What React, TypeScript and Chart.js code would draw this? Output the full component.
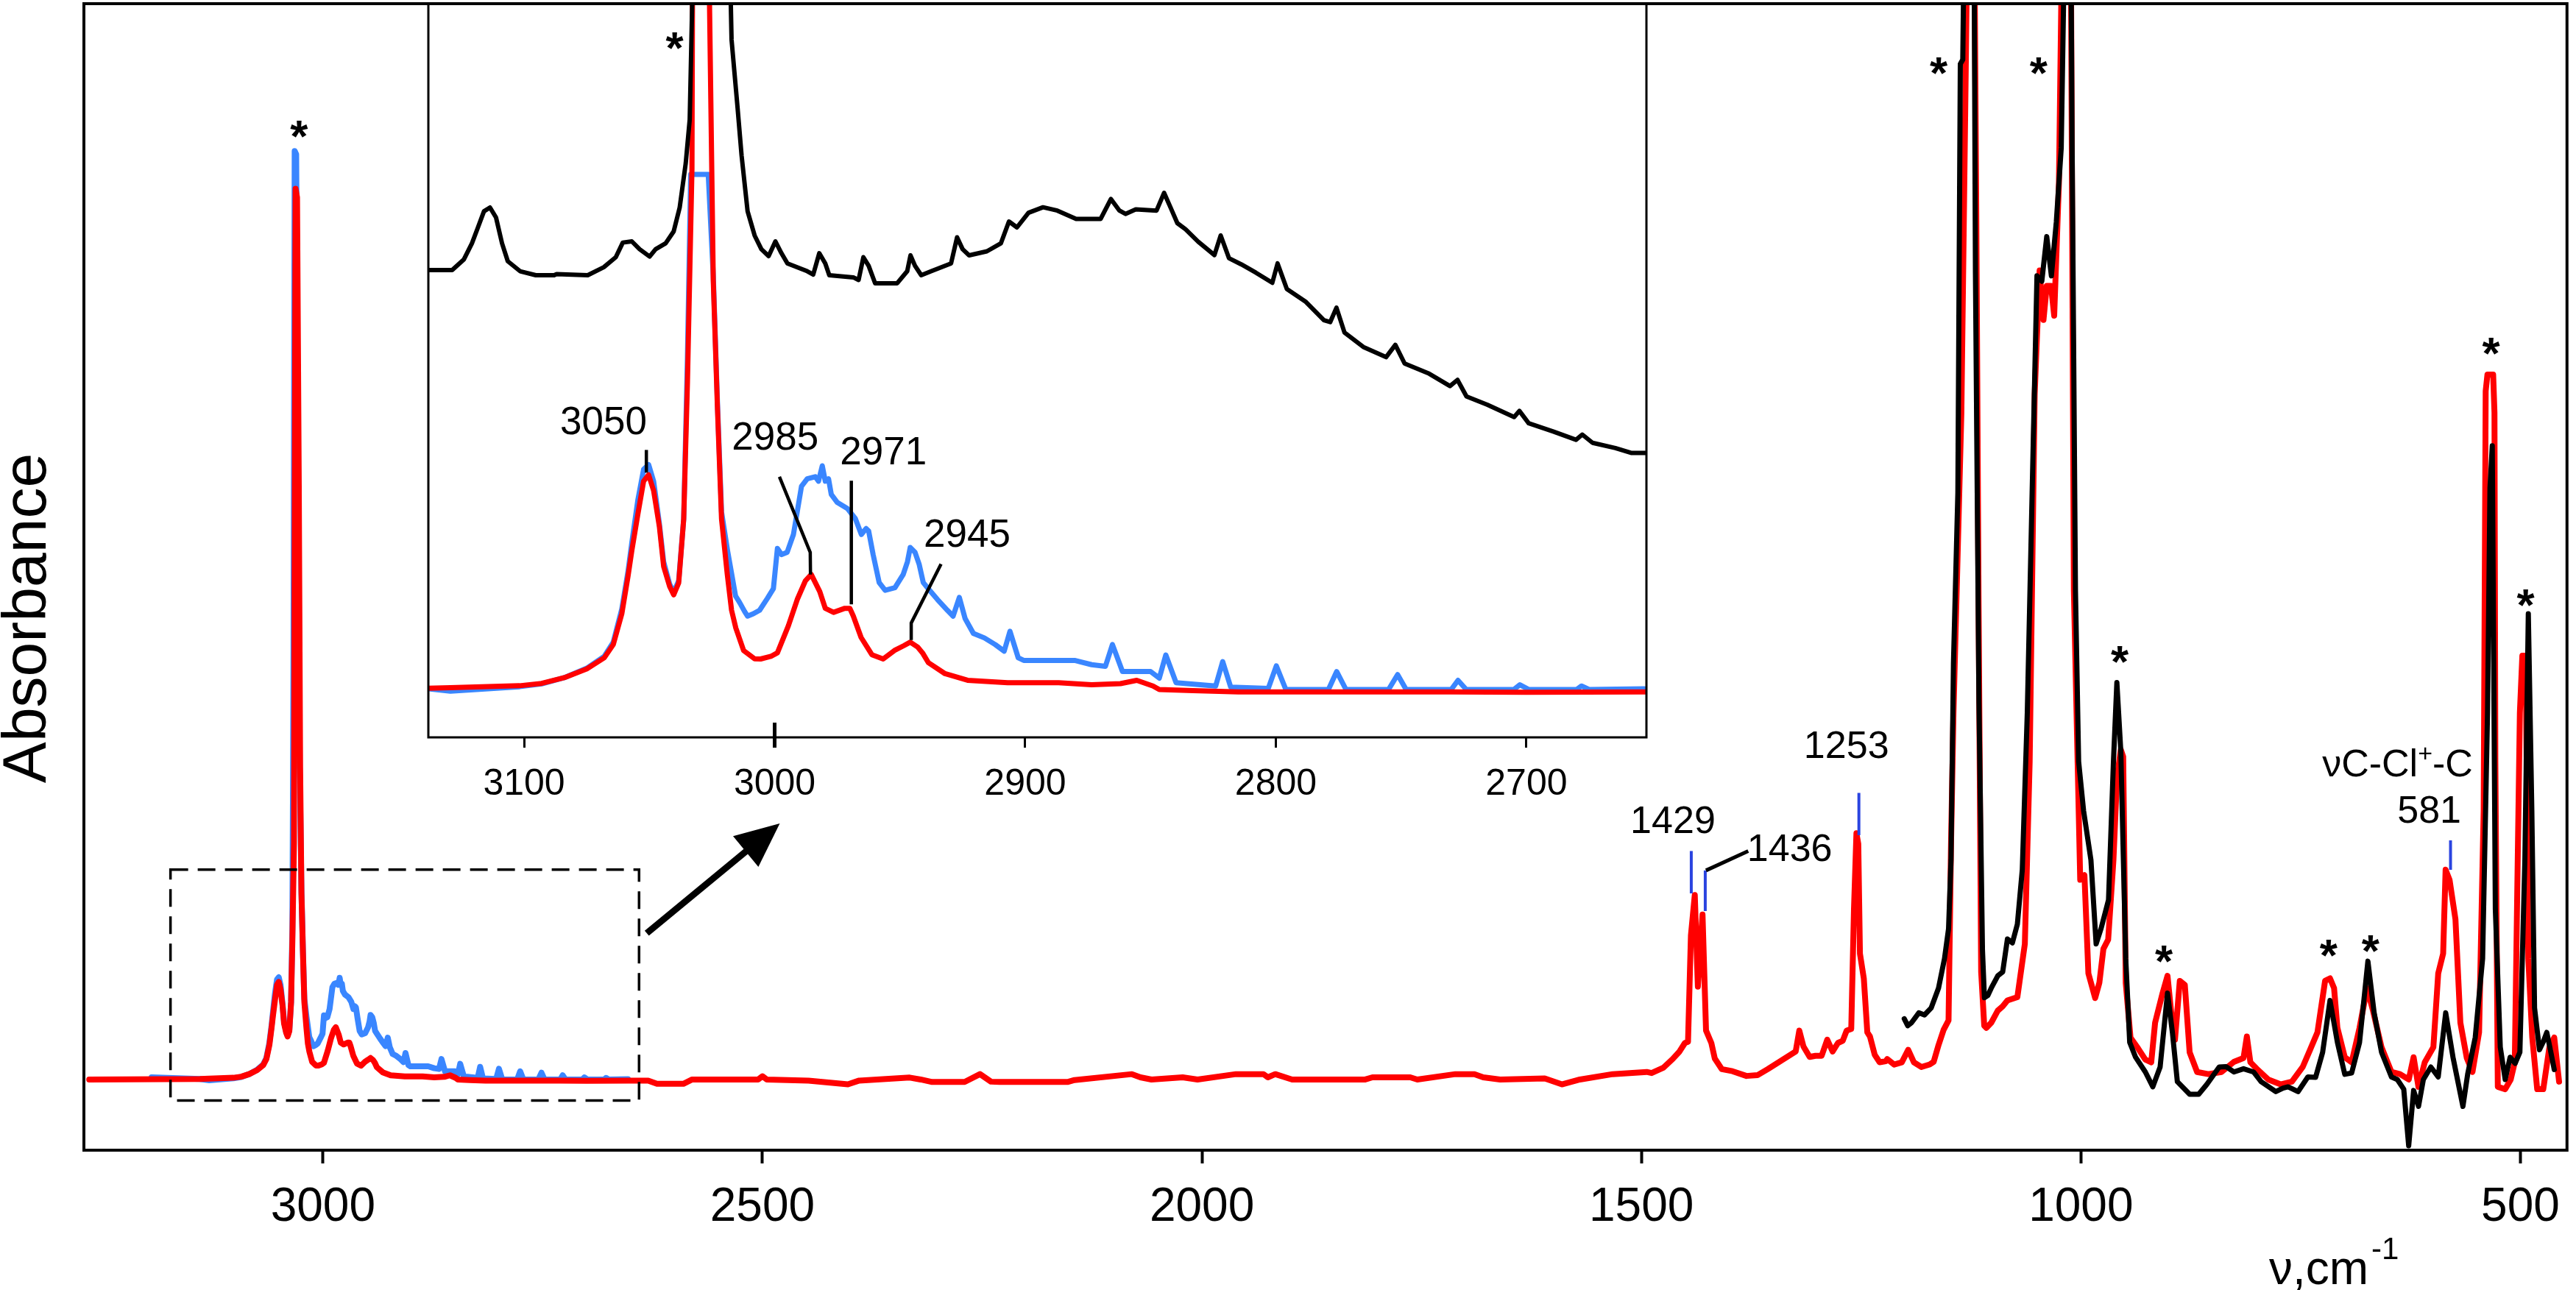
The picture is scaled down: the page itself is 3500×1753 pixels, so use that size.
import React, { useEffect, useRef } from "react";
import { Chart, registerables } from "chart.js";

Chart.register(...registerables);

const FONT = '"Liberation Sans", Arial, Helvetica, sans-serif';

// ---------- data (wavenumber cm-1, absorbance a.u.) ----------
const redSpectrum: [number, number][] = [
  [3266, 0], [3140, 0.0005], [3129.4, 0.0008], [3101.8, 0.0016], [3093, 0.0026], [3084, 0.005], [3075, 0.0087],
  [3068, 0.0134], [3064.4, 0.019], [3061, 0.032], [3058.5, 0.048], [3057, 0.0587], [3054.6, 0.074], [3052.3, 0.088],
  [3050.3, 0.0907], [3048.3, 0.084], [3046, 0.0688], [3044.3, 0.052], [3041.9, 0.0435], [3040.3, 0.04], [3038.3, 0.045],
  [3036.3, 0.072], [3034.8, 0.13], [3033, 0.22], [3032.2, 0.5], [3031.2, 0.828], [3029.5, 0.82], [3027.5, 0.55],
  [3026, 0.29], [3024.5, 0.173], [3022.8, 0.118], [3021.2, 0.072], [3018.9, 0.0486], [3017.2, 0.0335], [3015.5, 0.026],
  [3012.4, 0.0165], [3008, 0.013], [3005.6, 0.0129], [3001.5, 0.014], [2998.9, 0.0155], [2994.5, 0.027], [2991, 0.038],
  [2987.7, 0.046], [2985.4, 0.0486], [2982, 0.0414], [2979.8, 0.0343], [2976.5, 0.0326], [2972, 0.0343], [2970, 0.0343],
  [2968.6, 0.031], [2965.5, 0.022], [2961.2, 0.0147], [2956.7, 0.0129], [2952.2, 0.0165], [2948.5, 0.0185], [2945.9, 0.02],
  [2943, 0.018], [2941, 0.0155], [2938.7, 0.0114], [2932, 0.0067], [2923, 0.0039], [2907, 0.0029], [2886.7, 0.0029],
  [2873.5, 0.002], [2862, 0.0025], [2855.5, 0.0039], [2849, 0.0015], [2846.5, 0], [2833, -0.0005], [2815, -0.001],
  [2730, -0.001], [2700, -0.0012], [2653, -0.001], [2630, -0.001], [2620, -0.004], [2590, -0.004], [2580, 0],
  [2505, 0], [2500, 0.003], [2495, 0], [2447.6, -0.001], [2402.8, -0.0045], [2390, -0.001], [2332.5, 0.0018],
  [2320, 0], [2307, -0.0023], [2270, -0.0023], [2252.5, 0.005], [2240, -0.002], [2230, -0.0023], [2153, -0.0023],
  [2145, -0.0005], [2079.7, 0.005], [2070, 0.002], [2057.4, 0], [2022, 0.002], [2005, 0], [1961.3, 0.005], [1930, 0.005],
  [1925, 0.002], [1916.6, 0.005], [1897.4, 0], [1814.2, 0], [1806, 0.002], [1763, 0.002], [1755, 0], [1711.7, 0.005],
  [1690, 0.005], [1680, 0.002], [1660.7, 0], [1610, 0.001], [1590.5, -0.0045], [1570, 0], [1532.7, 0.005], [1494, 0.007],
  [1488.4, 0.006], [1475, 0.011], [1464.5, 0.019], [1456.7, 0.026], [1450.5, 0.034], [1447, 0.035], [1443.7, 0.134],
  [1439.3, 0.1715], [1435.8, 0.0864], [1430.5, 0.1534], [1426.5, 0.0455], [1420.5, 0.034], [1416.5, 0.0194],
  [1408.5, 0.0096], [1396.4, 0.0077], [1380.5, 0.0033], [1368, 0.004], [1356.3, 0.0096], [1340.4, 0.0178], [1324.5, 0.026],
  [1320.4, 0.0455], [1315.7, 0.0308], [1308.6, 0.021], [1302, 0.022], [1295, 0.022], [1288.6, 0.037], [1282.5, 0.026],
  [1276.4, 0.034], [1271, 0.036], [1266.5, 0.0455], [1261.3, 0.047], [1258.2, 0.158], [1255.4, 0.229], [1253.3, 0.219],
  [1251.4, 0.117], [1247, 0.094], [1243, 0.0438], [1240, 0.04], [1234.6, 0.023], [1229, 0.016], [1222, 0.017],
  [1220.4, 0.019], [1212.5, 0.0139], [1203.8, 0.016], [1196.5, 0.0276], [1190, 0.016], [1181.6, 0.0116], [1172, 0.014],
  [1167.5, 0.0165], [1162, 0.032], [1156.3, 0.046], [1150.6, 0.055], [1147.8, 0.2177], [1145, 0.341], [1136, 0.62],
  [1131, 0.94], [1128, 1.15], [1122, 1.15], [1119, 0.8], [1116.5, 0.45], [1113.5, 0.1], [1110, 0.05], [1107.5, 0.048],
  [1102, 0.0528], [1094.6, 0.064], [1089, 0.068], [1083.6, 0.0735], [1072.3, 0.0766], [1063.8, 0.126], [1058.3, 0.2956],
  [1052.6, 0.637], [1047, 0.752], [1042.6, 0.706], [1038.9, 0.7376], [1034, 0.7376], [1030.4, 0.71], [1025, 0.834],
  [1020, 1.15], [1012, 1.15], [1008, 0.4538], [1000.8, 0.1856], [996, 0.19], [991.5, 0.0986], [983.8, 0.0757], [979, 0.09],
  [974.4, 0.1215], [969, 0.13], [963, 0.204], [959, 0.28], [954.6, 0.3066], [951.9, 0.3], [949, 0.0896], [943.6, 0.039],
  [935, 0.029], [926.7, 0.0185], [920, 0.016], [915.6, 0.0528], [907.1, 0.0803], [901.5, 0.0964], [897, 0.06],
  [893, 0.037], [887.5, 0.0917], [881.8, 0.088], [876.3, 0.0253], [867.8, 0.007], [855, 0.005], [840, 0.007],
  [826, 0.0164], [815, 0.02], [811.2, 0.04], [807.2, 0.016], [800, 0.01], [786.9, 0], [772.8, -0.0045], [760, -0.002],
  [747.7, 0.0116], [739.3, 0.0276], [730.9, 0.0438], [722.2, 0.0917], [716.6, 0.094], [712, 0.085], [708.2, 0.048],
  [699.8, 0.0207], [692, 0.016], [683, 0.048], [674.5, 0.085], [668, 0.065], [658, 0.03], [646.7, 0.007], [637, 0.005],
  [627, 0], [621.5, 0.0207], [616, -0.0068], [608.8, 0.016], [599, 0.03], [593.5, 0.0986], [587.9, 0.117], [585.1, 0.195],
  [580.6, 0.1856], [573.9, 0.149], [568.3, 0.0528], [561, 0.02], [554.5, 0.007], [547, 0.0438], [541.8, 0.25],
  [539.5, 0.64], [537.5, 0.6553], [531, 0.6553], [529.5, 0.62], [528.5, 0.2956], [525.7, -0.0068], [517.3, -0.009], [511, 0], [506.4, 0.016],
  [500.6, 0.341], [497.8, 0.394], [494, 0.394], [491, 0.1124], [486.5, 0.039], [480.9, -0.009], [474, -0.009],
  [467, 0.03], [461.5, 0.039], [456, -0.002],
];

const blueSpectrum: [number, number][] = [
  [3195, 0.002], [3140, 0.0005], [3129.4, -0.0007], [3101.8, 0.0012], [3093, 0.0024], [3084, 0.005], [3075, 0.009],
  [3068, 0.014], [3064.4, 0.02], [3061, 0.034], [3058.5, 0.05], [3057, 0.062], [3054.6, 0.08], [3052.3, 0.093],
  [3050.3, 0.095], [3048.3, 0.088], [3046, 0.07], [3044.3, 0.054], [3041.9, 0.0445], [3040.3, 0.041], [3038.3, 0.046],
  [3036.3, 0.072], [3034.8, 0.14], [3033.5, 0.4], [3032.2, 0.863], [3030.5, 0.86], [3028.5, 0.6], [3026.5, 0.29],
  [3024.5, 0.175], [3022.8, 0.12], [3021.2, 0.075], [3018.8, 0.0587], [3015.6, 0.0395], [3014, 0.0368], [3012, 0.033],
  [3010.8, 0.031], [3008.5, 0.032], [3006, 0.0335], [3002.9, 0.0385], [3000.5, 0.0426], [2998.9, 0.0596], [2997.2, 0.057],
  [2995, 0.058], [2992.5, 0.0655], [2989.3, 0.0858], [2987, 0.089], [2983.8, 0.0899], [2982.5, 0.088], [2981, 0.0945],
  [2979.8, 0.088], [2978.5, 0.089], [2977.4, 0.0824], [2975, 0.079], [2971, 0.0765], [2967.8, 0.0722], [2965.4, 0.0655],
  [2963.5, 0.068], [2962.5, 0.067], [2960.7, 0.057], [2958.3, 0.0452], [2955.9, 0.0419], [2952, 0.043], [2948.7, 0.0486],
  [2947, 0.054], [2945.9, 0.06], [2944, 0.058], [2942.3, 0.0528], [2940.7, 0.0452], [2938.7, 0.0426], [2935, 0.038],
  [2931, 0.0334], [2928.8, 0.031], [2926.3, 0.0389], [2924, 0.03], [2920.7, 0.0237], [2916.3, 0.0218], [2912, 0.019],
  [2908.4, 0.0162], [2906.1, 0.0246], [2902.8, 0.0134], [2900.6, 0.0123], [2880.3, 0.0123], [2873.5, 0.0105],
  [2868, 0.0098], [2865.2, 0.019], [2861.2, 0.0076], [2850, 0.0076], [2846.5, 0.0048], [2843.9, 0.0146], [2839.8, 0.0029],
  [2824, 0.0015], [2821.2, 0.0118], [2818, 0.001], [2803, 0.0005], [2799.8, 0.01], [2796, 0], [2779, 0], [2775.7, 0.0076],
  [2772, 0], [2755, 0], [2751.4, 0.0063], [2748, 0], [2730, 0], [2727.3, 0.0039], [2724, 0], [2705, 0], [2702.6, 0.002],
  [2699, 0], [2680, 0], [2678, 0.0015], [2675, 0], [2653, 0.0003],
];

const blackSpectrum: [number, number][] = [
  [1201, 0.0565], [1197, 0.05], [1192.7, 0.0528], [1184.4, 0.062], [1178, 0.06], [1170.3, 0.0666], [1162, 0.085],
  [1155.2, 0.1124], [1150.6, 0.14], [1147.8, 0.204], [1145, 0.387], [1140, 0.5453], [1137.2, 0.944], [1134.4, 0.948],
  [1131.6, 1.15], [1122, 1.15], [1120, 0.75], [1116, 0.35], [1112, 0.12], [1109.8, 0.076], [1106, 0.078], [1102, 0.085],
  [1094.6, 0.0964], [1089, 0.1], [1083.6, 0.1306], [1078, 0.127], [1072.3, 0.1444], [1066.7, 0.195], [1061, 0.341],
  [1055.5, 0.545], [1050, 0.747], [1044.5, 0.742], [1038.9, 0.7835], [1033.6, 0.747], [1028, 0.797], [1022.4, 0.866],
  [1016.8, 1.15], [1012, 1.15], [1010, 0.866], [1006.2, 0.4538], [1002.6, 0.2956], [997, 0.25], [988.6, 0.204],
  [982.7, 0.126], [977.2, 0.14], [968.6, 0.167], [963, 0.2956], [959.1, 0.369], [954.6, 0.3047], [949, 0.1124],
  [944.5, 0.0345], [937.8, 0.0207], [926.7, 0.007], [918.2, -0.0068], [909.9, 0.0116], [901.5, 0.0803], [895.9, 0.0436],
  [890.3, -0.002], [876.3, -0.0137], [866, -0.0137], [856.7, -0.0045], [842.7, 0.0116], [835, 0.012], [826, 0.007],
  [815, 0.01], [803.6, 0.007], [795, -0.002], [778.3, -0.0113], [770, -0.008], [764.3, -0.0068], [753, -0.0113],
  [741.8, 0.0024], [733, 0.002], [725, 0.0253], [716.6, 0.0735], [708.2, 0.0345], [699.8, 0.0048], [692, 0.006],
  [683, 0.0345], [673.5, 0.11], [666.4, 0.062], [658, 0.0253], [646.7, 0.0024], [640, 0], [632.7, -0.009],
  [627.1, -0.0616], [621.5, -0.0102], [615.9, -0.025], [610.4, 0], [601.9, 0.0116], [593.5, 0.0024], [585, 0.062],
  [576.7, 0.0207], [565.4, -0.025], [560, 0.005], [551.4, 0.039], [543, 0.1124], [537.4, 0.341], [534.6, 0.55],
  [532, 0.589], [528.5, 0.158], [522.9, 0.03], [517.3, 0], [511.7, 0.0207], [506, 0.015], [500.6, 0.0253], [494.9, 0.204],
  [491, 0.433], [487, 0.25], [483.9, 0.0666], [478.3, 0.0276], [474, 0.035], [470, 0.0438], [466, 0.028], [461.5, 0.0093],
];

// black trace shown only in the inset (offset spectrum)
const insetBlackSpectrum: [number, number][] = [
  [3138.5, 0.1772], [3128.7, 0.1772], [3124, 0.1817], [3120.8, 0.1885], [3118.4, 0.1952], [3116, 0.202], [3113.6, 0.2036],
  [3111.2, 0.1994], [3108.8, 0.1885], [3106.5, 0.1809], [3101.6, 0.1767], [3095.3, 0.175], [3088, 0.175], [3087, 0.1755],
  [3074.6, 0.175], [3068.2, 0.1784], [3063.4, 0.1826], [3060.6, 0.1888], [3057, 0.1893], [3053.9, 0.186], [3049.9, 0.1829],
  [3047.5, 0.186], [3043.5, 0.1885], [3040.3, 0.1935], [3037.9, 0.2036], [3035.5, 0.2222], [3033.9, 0.2407], [3032.5, 0.31],
  [3031.5, 0.34], [3018.5, 0.34], [3017.2, 0.2745], [3014.8, 0.2457], [3013.2, 0.2256], [3010.8, 0.202], [3008, 0.1918],
  [3005.3, 0.186], [3002.4, 0.1831], [2999.7, 0.1893], [2997.3, 0.1843], [2994.9, 0.18], [2987, 0.1767], [2984.6, 0.1753],
  [2982.2, 0.1843], [2979.8, 0.18], [2978.2, 0.175], [2968.6, 0.1741], [2966.5, 0.173], [2964.6, 0.1826], [2962.5, 0.179],
  [2959.9, 0.1716], [2951.1, 0.1716], [2947.1, 0.1767], [2945.8, 0.1834], [2944, 0.179], [2941.5, 0.175], [2937.5, 0.1767],
  [2929.6, 0.18], [2927.2, 0.191], [2925, 0.186], [2922.4, 0.1834], [2915.3, 0.1851], [2909.7, 0.1885], [2906.5, 0.1977],
  [2903.3, 0.1952], [2898.7, 0.2014], [2892.9, 0.2037], [2887.2, 0.2023], [2879.7, 0.1988], [2869.9, 0.1988],
  [2865.8, 0.2072], [2862.4, 0.2023], [2860, 0.2009], [2855.9, 0.2028], [2847.6, 0.2023], [2844.6, 0.2098],
  [2841.8, 0.2031], [2839.3, 0.197], [2836, 0.1944], [2831, 0.1892], [2824.5, 0.1835], [2822, 0.1918], [2818.7, 0.1822],
  [2813.8, 0.1796], [2808, 0.1761], [2801.4, 0.1718], [2799.3, 0.18], [2795.6, 0.1692], [2788.2, 0.1639], [2780.8, 0.156],
  [2778.3, 0.1552], [2775.8, 0.1613], [2772.6, 0.1508], [2765.1, 0.1447], [2756, 0.1404], [2752.3, 0.1456],
  [2748.6, 0.1377], [2738.8, 0.1334], [2730.5, 0.1282], [2727.5, 0.1308], [2723.9, 0.1238], [2715.6, 0.1203],
  [2704.9, 0.1151], [2702.8, 0.1177], [2699.1, 0.1125], [2689.3, 0.109], [2680.2, 0.1055], [2677.7, 0.1077],
  [2673.6, 0.1042], [2664.5, 0.102], [2658, 0.0999], [2652, 0.0999],
];

const INSET_BLUE_CAP = 0.2176;

const mainTicks = [3000, 2500, 2000, 1500, 1000, 500];
const insetTicks = [3100, 3000, 2900, 2800, 2700];

// annotations (data coordinates)
const mainStars: [number, number][] = [
  [3027.3, 0.8871], [1161.9, 0.9459], [1048.1, 0.9459], [955.8, 0.3988], [533.4, 0.6854], [494.1, 0.4514],
  [905.6, 0.1206], [718.2, 0.1261], [670.5, 0.13],
];
const insetStars: [number, number][] = [[3039.9, 0.2758]];

const mainLabels: { text: string; wn: number; a: number }[] = [
  { text: "1429", wn: 1464.2, a: 0.2291 },
  { text: "1436", wn: 1331.3, a: 0.2031 },
  { text: "1253", wn: 1266.8, a: 0.2989 },
  { text: "581", wn: 603.7, a: 0.2387 },
];
const blueMarkers: [number, number, number][] = [
  [1443.3, 0.173, 0.2124], [1427.4, 0.1566, 0.1943], [1252.6, 0.2271, 0.2664], [579.5, 0.1949, 0.2223],
];
const leader1436: [number, number][] = [[1378.5, 0.2124], [1426.6, 0.1943]];

const insetLabels: { text: string; wn: number; a: number }[] = [
  { text: "3050", wn: 3068.3, a: 0.1079 },
  { text: "2985", wn: 2999.8, a: 0.1013 },
  { text: "2971", wn: 2956.6, a: 0.0951 },
  { text: "2945", wn: 2923.2, a: 0.0603 },
];
const insetLeaders: [number, number][][] = [
  [[3051.2, 0.1012], [3051.2, 0.0916]],
  [[2998.1, 0.0899], [2985.8, 0.0579], [2985.7, 0.0486]],
  [[2969.4, 0.0882], [2969.4, 0.036]],
  [[2933.6, 0.053], [2945.5, 0.0281], [2945.5, 0.0209]],
];

const zoomBox = { wnFrom: 3173.5, wnTo: 2640.4, aLow: -0.0195, aHigh: 0.195 };
const zoomArrow = { from: [2631.6, 0.136], to: [2480.3, 0.238] };

const RED = "#ff0000";
const BLUE = "#3a86ff";
const MARK_BLUE = "#2a44e0";

const toXY = (arr: [number, number][]) => arr.map(([x, y]) => ({ x, y }));

function drawStar(ctx: CanvasRenderingContext2D, px: number, py: number) {
  ctx.font = `bold 62px ${FONT}`;
  ctx.textAlign = "center";
  ctx.textBaseline = "alphabetic";
  ctx.fillText("*", px, py + 36);
}

const mainOverlay = {
  id: "mainOverlay",
  afterDraw(chart: any) {
    const { ctx, chartArea } = chart;
    const xs = chart.scales.x;
    const ys = chart.scales.y;
    const px = (v: number) => xs.getPixelForValue(v);
    const py = (v: number) => ys.getPixelForValue(v);
    ctx.save();
    ctx.strokeStyle = "#000";
    ctx.fillStyle = "#000";
    ctx.lineWidth = 4;
    ctx.strokeRect(chartArea.left, chartArea.top, chartArea.right - chartArea.left, chartArea.bottom - chartArea.top);

    // dashed zoom box
    ctx.lineWidth = 3.5;
    ctx.setLineDash([24, 13]);
    const bx0 = px(zoomBox.wnFrom), bx1 = px(zoomBox.wnTo);
    const by0 = py(zoomBox.aHigh), by1 = py(zoomBox.aLow);
    ctx.strokeRect(bx0, by0, bx1 - bx0, by1 - by0);
    ctx.setLineDash([]);

    // arrow
    const ax0 = px(zoomArrow.from[0]), ay0 = py(zoomArrow.from[1]);
    const ax1 = px(zoomArrow.to[0]), ay1 = py(zoomArrow.to[1]);
    const ang = Math.atan2(ay1 - ay0, ax1 - ax0);
    const hl = 60, hw = 27;
    const bxm = ax1 - hl * Math.cos(ang), bym = ay1 - hl * Math.sin(ang);
    ctx.lineWidth = 9;
    ctx.beginPath();
    ctx.moveTo(ax0, ay0);
    ctx.lineTo(bxm + 8 * Math.cos(ang), bym + 8 * Math.sin(ang));
    ctx.stroke();
    ctx.beginPath();
    ctx.moveTo(ax1, ay1);
    ctx.lineTo(bxm + hw * Math.sin(ang), bym - hw * Math.cos(ang));
    ctx.lineTo(bxm - hw * Math.sin(ang), bym + hw * Math.cos(ang));
    ctx.closePath();
    ctx.fill();

    // stars
    mainStars.forEach(([w, a]) => drawStar(ctx, px(w), py(a)));

    // blue peak markers
    ctx.strokeStyle = MARK_BLUE;
    ctx.lineWidth = 4;
    blueMarkers.forEach(([w, a0, a1]) => {
      ctx.beginPath();
      ctx.moveTo(px(w), py(a0));
      ctx.lineTo(px(w), py(a1));
      ctx.stroke();
    });
    // leader for 1436
    ctx.strokeStyle = "#000";
    ctx.lineWidth = 5;
    ctx.beginPath();
    leader1436.forEach(([w, a], i) => (i ? ctx.lineTo(px(w), py(a)) : ctx.moveTo(px(w), py(a))));
    ctx.stroke();

    // peak labels
    ctx.font = `52px ${FONT}`;
    ctx.textAlign = "center";
    ctx.textBaseline = "alphabetic";
    mainLabels.forEach((l) => ctx.fillText(l.text, px(l.wn), py(l.a)));

    // nu C-Cl+-C label
    {
      const cx = px(639.8), by = py(0.2818);
      const p1 = "\u03BDC-Cl", p2 = "+", p3 = "-C";
      ctx.font = `52px ${FONT}`;
      const w1 = ctx.measureText(p1).width;
      const w3 = ctx.measureText(p3).width;
      ctx.font = `34px ${FONT}`;
      const w2 = ctx.measureText(p2).width;
      const total = w1 + w2 + w3;
      let x = cx - total / 2;
      ctx.textAlign = "left";
      ctx.font = `52px ${FONT}`;
      ctx.fillText(p1, x, by);
      x += w1;
      ctx.font = `34px ${FONT}`;
      ctx.fillText(p2, x, by - 20);
      x += w2;
      ctx.font = `52px ${FONT}`;
      ctx.fillText(p3, x, by);
    }

    // axis titles
    ctx.save();
    ctx.translate(62, 840);
    ctx.rotate(-Math.PI / 2);
    ctx.font = `84px ${FONT}`;
    ctx.textAlign = "center";
    ctx.textBaseline = "alphabetic";
    ctx.fillText("Absorbance", 0, 0);
    ctx.restore();

    ctx.textAlign = "left";
    ctx.textBaseline = "alphabetic";
    ctx.font = `64px ${FONT}`;
    const t = "\u03BD,cm";
    ctx.fillText(t, 3083, 1745);
    const tw = ctx.measureText(t).width;
    ctx.font = `42px ${FONT}`;
    ctx.fillText("-1", 3083 + tw + 4, 1711);
    ctx.restore();
  },
};

const insetOverlay = {
  id: "insetOverlay",
  beforeDraw(chart: any) {
    const { ctx, chartArea } = chart;
    ctx.save();
    ctx.fillStyle = "#fff";
    ctx.fillRect(chartArea.left, chartArea.top, chartArea.right - chartArea.left, chartArea.bottom - chartArea.top);
    ctx.restore();
  },
  afterDraw(chart: any) {
    const { ctx, chartArea } = chart;
    const xs = chart.scales.x;
    const ys = chart.scales.y;
    const px = (v: number) => xs.getPixelForValue(v);
    const py = (v: number) => ys.getPixelForValue(v);
    ctx.save();
    ctx.strokeStyle = "#000";
    ctx.fillStyle = "#000";
    ctx.lineWidth = 3;
    ctx.beginPath();
    ctx.moveTo(chartArea.left, chartArea.top);
    ctx.lineTo(chartArea.left, chartArea.bottom);
    ctx.lineTo(chartArea.right, chartArea.bottom);
    ctx.lineTo(chartArea.right, chartArea.top);
    ctx.stroke();
    ctx.lineWidth = 4;
    ctx.beginPath();
    ctx.moveTo(chartArea.left - 2, chartArea.top);
    ctx.lineTo(chartArea.right + 2, chartArea.top);
    ctx.stroke();
    // bold tick at 3000 crossing the axis
    ctx.lineWidth = 5;
    ctx.beginPath();
    ctx.moveTo(px(3000), chartArea.bottom - 20);
    ctx.lineTo(px(3000), chartArea.bottom);
    ctx.stroke();

    insetStars.forEach(([w, a]) => drawStar(ctx, px(w), py(a)));

    ctx.lineWidth = 4.5;
    insetLeaders.forEach((pts) => {
      ctx.beginPath();
      pts.forEach(([w, a], i) => (i ? ctx.lineTo(px(w), py(a)) : ctx.moveTo(px(w), py(a))));
      ctx.stroke();
    });
    ctx.font = `53px ${FONT}`;
    ctx.textAlign = "center";
    ctx.textBaseline = "alphabetic";
    insetLabels.forEach((l) => ctx.fillText(l.text, px(l.wn), py(l.a)));
    ctx.restore();
  },
};

export default function App() {
  const mainRef = useRef<HTMLCanvasElement | null>(null);
  const insetRef = useRef<HTMLCanvasElement | null>(null);

  useEffect(() => {
    if (!mainRef.current || !insetRef.current) return;
    const line = (data: any[], color: string, width: number) => ({
      data,
      borderColor: color,
      borderWidth: width,
      pointRadius: 0,
      tension: 0,
      fill: false,
      clip: 0,
      borderJoinStyle: "round" as const,
      borderCapStyle: "round" as const,
    });

    const main = new Chart(mainRef.current, {
      type: "line",
      data: {
        datasets: [
          line(toXY(blackSpectrum), "#000", 7),
          line(toXY(redSpectrum), RED, 8),
          line(toXY(blueSpectrum), BLUE, 8),
        ],
      },
      options: {
        animation: false,
        responsive: false,
        devicePixelRatio: 1,
        layout: { padding: { left: 114, right: 8, top: 5, bottom: 0 } },
        plugins: { legend: { display: false }, tooltip: { enabled: false } },
        scales: {
          x: {
            type: "linear",
            reverse: true,
            min: 447,
            max: 3272,
            afterBuildTicks: (s: any) => {
              s.ticks = mainTicks.map((v) => ({ value: v }));
            },
            afterFit: (s: any) => {
              s.height = 190;
            },
            border: { display: false },
            grid: { drawOnChartArea: false, drawTicks: true, tickLength: 18, tickWidth: 4, tickColor: "#000" },
            ticks: {
              color: "#000",
              font: { family: FONT, size: 64 },
              padding: 22,
              maxRotation: 0,
              autoSkip: false,
              callback: (v: any) => String(v),
            },
          },
          y: { type: "linear", display: false, min: -0.0657, max: 1.0 },
        },
      },
      plugins: [mainOverlay],
    } as any);

    const inset = new Chart(insetRef.current, {
      type: "line",
      data: {
        datasets: [
          line(toXY(insetBlackSpectrum), "#000", 6),
          line(toXY(redSpectrum), RED, 7),
          line(
            blueSpectrum.map(([x, y]) => ({ x, y: Math.min(y, INSET_BLUE_CAP) })),
            BLUE,
            7
          ),
        ],
      },
      options: {
        animation: false,
        responsive: false,
        devicePixelRatio: 1,
        layout: { padding: { left: 582, right: 1263, top: 5, bottom: 0 } },
        plugins: { legend: { display: false }, tooltip: { enabled: false } },
        scales: {
          x: {
            type: "linear",
            reverse: true,
            min: 2652.1,
            max: 3138.2,
            afterBuildTicks: (s: any) => {
              s.ticks = insetTicks.map((v) => ({ value: v }));
            },
            afterFit: (s: any) => {
              s.height = 751;
            },
            border: { display: false },
            grid: {
              drawOnChartArea: false,
              drawTicks: true,
              tickLength: 14,
              tickWidth: (c: any) => (c.tick && c.tick.value === 3000 ? 5 : 3),
              tickColor: "#000",
            },
            ticks: {
              color: "#000",
              font: { family: FONT, size: 50 },
              padding: 20,
              maxRotation: 0,
              autoSkip: false,
              callback: (v: any) => String(v),
            },
          },
          y: { type: "linear", display: false, min: -0.0202, max: 0.2897 },
        },
      },
      plugins: [insetOverlay],
    } as any);

    return () => {
      main.destroy();
      inset.destroy();
    };
  }, []);

  return (
    <div style={{ position: "fixed", left: 0, top: 0, width: 3500, height: 1753, background: "#fff" }}>
      <canvas
        ref={mainRef}
        width={3500}
        height={1753}
        style={{ position: "absolute", left: 0, top: 0, width: 3500, height: 1753 }}
      />
      <canvas
        ref={insetRef}
        width={3500}
        height={1753}
        style={{ position: "absolute", left: 0, top: 0, width: 3500, height: 1753 }}
      />
    </div>
  );
}
